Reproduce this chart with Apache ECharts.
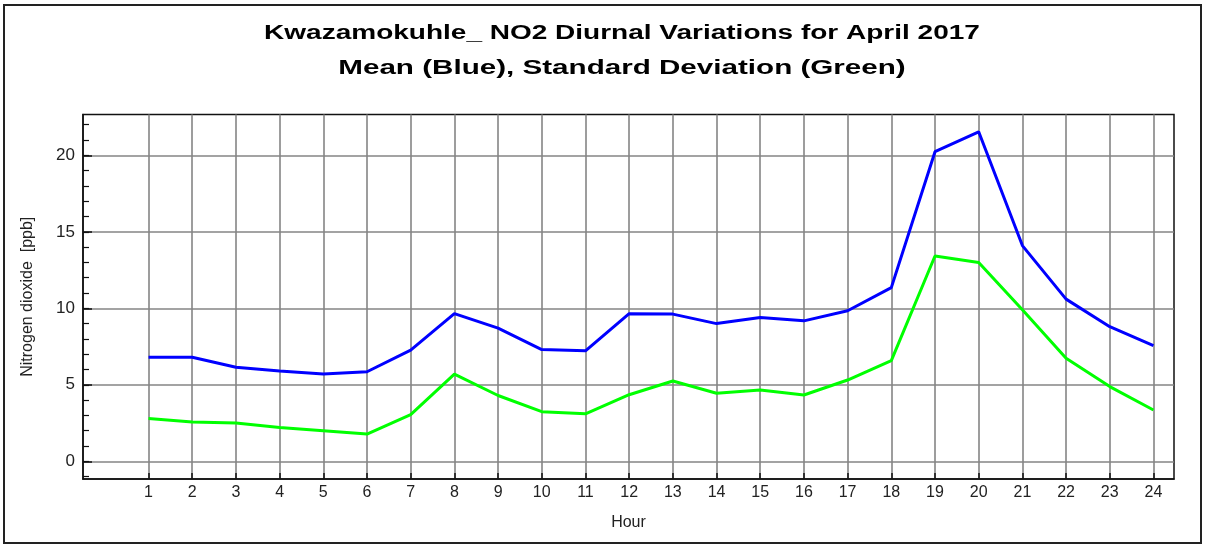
<!DOCTYPE html>
<html>
<head>
<meta charset="utf-8">
<script src="https://cdn.jsdelivr.net/npm/echarts@6/dist/echarts.min.js"></script>
<style>
  html, body { margin: 0; padding: 0; background: #fff; }
  #chart-container { width: 1205px; height: 545px; }
</style>
</head>
<body>
<div id="chart-container"></div>
<script>
var titleLine1 = 'Kwazamokuhle_ NO2 Diurnal Variations for April 2017';
var titleLine2 = 'Mean (Blue), Standard Deviation (Green)';
var hours = [1, 2, 3, 4, 5, 6, 7, 8, 9, 10, 11, 12, 13, 14, 15, 16, 17, 18, 19, 20, 21, 22, 23, 24];
var meanNO2 = [6.8, 6.8, 6.15, 5.9, 5.7, 5.85, 7.27, 9.65, 8.7, 7.3, 7.22, 9.65, 9.62, 9.0, 9.4, 9.18, 9.84, 11.35, 20.24, 21.54, 14.1, 10.6, 8.8, 7.56];
var stdNO2 = [2.8, 2.57, 2.5, 2.2, 2.0, 1.78, 3.05, 5.7, 4.3, 3.24, 3.1, 4.35, 5.25, 4.45, 4.66, 4.33, 5.31, 6.58, 13.42, 13.0, 9.9, 6.73, 4.88, 3.35];
var yMajorTicks = [0, 5, 10, 15, 20];
var yMinorTicks = [-1, 0, 1, 2, 3, 4, 5, 6, 7, 8, 9, 10, 11, 12, 13, 14, 15, 16, 17, 18, 19, 20, 21, 22];

var dom = document.getElementById('chart-container');
var myChart = echarts.init(dom, null, { renderer: 'canvas' });

function pairs(xs, ys) {
  return xs.map(function (x, i) { return [x, ys[i]]; });
}

var labelFont = 'Liberation Sans, Arial, sans-serif';

// the source picture is stretched sideways, so the title is scaled in x
function titleText(text, y, sx) {
  return {
    type: 'text',
    x: 622,
    y: y,
    scaleX: sx,
    silent: true,
    style: {
      text: text,
      fontFamily: labelFont,
      fontSize: 20,
      fontWeight: 'bold',
      fill: '#000',
      textAlign: 'center',
      textVerticalAlign: 'middle'
    }
  };
}

var option = {
  animation: false,
  backgroundColor: '#fff',
  graphic: [{
    type: 'rect',
    shape: { x: 4, y: 5, width: 1197, height: 538 },
    style: { fill: 'none', stroke: '#222', lineWidth: 2 },
    silent: true
  },
  titleText(titleLine1, 33, 1.4),
  titleText(titleLine2, 68, 1.48)
  ],
  grid: {
    left: 83,
    top: 114.5,
    right: 31,
    bottom: 66,
    show: true,
    borderColor: '#111',
    borderWidth: 1.5
  },
  xAxis: {
    type: 'value',
    min: -0.5,
    max: 24.47,
    name: 'Hour',
    nameLocation: 'middle',
    nameGap: 36,
    nameTextStyle: { fontFamily: labelFont, fontSize: 16, color: '#222' },
    axisLine: { show: true, onZero: false, lineStyle: { color: '#111', width: 1.5 } },
    axisTick: { show: true, inside: true, length: 6, customValues: hours, lineStyle: { color: '#111', width: 1.5 } },
    axisLabel: { customValues: hours, fontFamily: labelFont, fontSize: 16, color: '#222', margin: 6 },
    splitLine: { show: true, lineStyle: { color: '#858585', width: 1.6 } }
  },
  yAxis: [{
    type: 'value',
    position: 'left',
    min: -1.16,
    max: 22.67,
    name: 'Nitrogen dioxide  [ppb]',
    nameLocation: 'middle',
    nameGap: 47,
    nameTextStyle: { fontFamily: labelFont, fontSize: 16, color: '#222' },
    axisLine: { show: true, onZero: false, lineStyle: { color: '#111', width: 1.5 } },
    axisTick: { show: true, inside: true, length: 9, customValues: yMajorTicks, lineStyle: { color: '#111', width: 1.5 } },
    axisLabel: { customValues: yMajorTicks, fontFamily: labelFont, fontSize: 17, color: '#222', margin: 8 },
    splitLine: { show: true, lineStyle: { color: '#858585', width: 1.6 } }
  }, {
    type: 'value',
    position: 'left',
    offset: 0,
    min: -1.16,
    max: 22.67,
    axisLine: { show: false, onZero: false },
    axisTick: { show: true, inside: true, length: 6, customValues: yMinorTicks, lineStyle: { color: '#111', width: 1.2 } },
    axisLabel: { show: false },
    splitLine: { show: false }
  }],
  series: [{
    name: 'Mean',
    type: 'line',
    yAxisIndex: 0,
    symbol: 'none',
    lineStyle: { color: '#0000ff', width: 3 },
    data: pairs(hours, meanNO2)
  }, {
    name: 'Standard Deviation',
    type: 'line',
    yAxisIndex: 0,
    symbol: 'none',
    lineStyle: { color: '#00ff00', width: 3 },
    data: pairs(hours, stdNO2)
  }]
};

myChart.setOption(option);
window.addEventListener('resize', myChart.resize);
</script>
</body>
</html>
